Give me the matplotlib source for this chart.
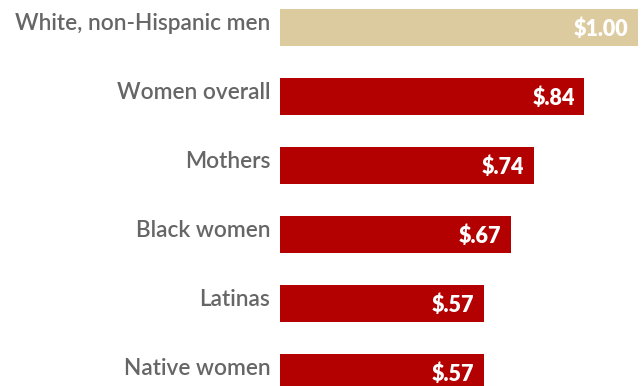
import matplotlib.pyplot as plt

# categories, bar lengths (as drawn) and printed labels
groups = ["White, non-Hispanic men", "Women overall", "Mothers",
          "Black women", "Latinas", "Native women"]
bar_values = [1.00, 0.85, 0.71, 0.645, 0.57, 0.57]
value_labels = ["$1.00", "$.84", "$.74", "$.67", "$.57", "$.57"]

colors = ["#dccb9f"] + ["#b30000"] * 5

fig = plt.figure(figsize=(6.41, 3.86), dpi=100)
ax = fig.add_axes([280 / 641, 0, 361 / 641, 1])

pos = list(range(len(groups)))
ax.barh(pos, bar_values, height=0.536, color=colors)

ax.set_xlim(0, 1.008)
ax.set_ylim(5.196, -0.399)

for i, (v, lab) in enumerate(zip(bar_values, value_labels)):
    ax.annotate(lab, xy=(v, i), xytext=(-7, -1), textcoords="offset points",
                ha="right", va="center", color="white", fontsize=15.5,
                fontweight="heavy", family="Lato")
    ax.annotate(groups[i], xy=(0, i), xytext=(-7, 3), textcoords="offset points",
                ha="right", va="center", color="#666666", fontsize=16.3,
                fontweight="semibold", family="Lato", annotation_clip=False)

ax.axis("off")
fig.savefig("out.png", dpi=100)
